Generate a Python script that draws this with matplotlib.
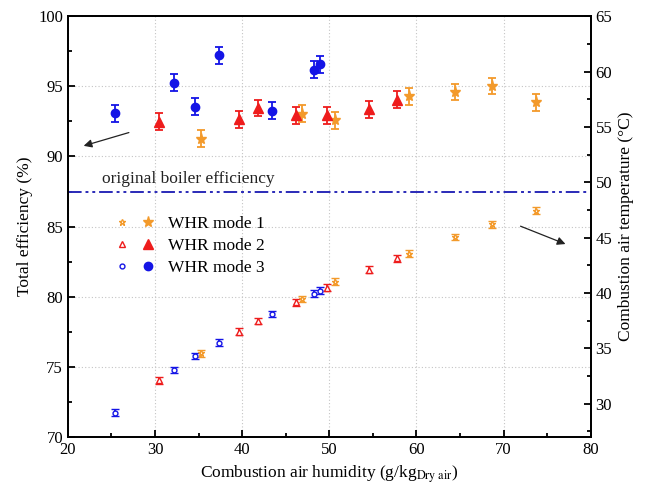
import numpy as np
import matplotlib.pyplot as plt
from matplotlib.legend_handler import HandlerTuple
from matplotlib.ticker import MultipleLocator

plt.rcParams['font.family'] = 'Liberation Serif'
plt.rcParams['mathtext.fontset'] = 'stix'

# ================== Data ==================
# WHR mode 1 (orange stars)
hum1 = [35.3, 46.9, 50.65, 59.15, 64.46, 68.67, 73.7]
eff1 = [91.28, 93.06, 92.59, 94.30, 94.60, 95.03, 93.85]
temp1 = [34.56, 39.46, 41.03, 43.56, 45.06, 46.21, 47.45]

# WHR mode 2 (red triangles)
hum2 = [30.4, 39.6, 41.8, 46.15, 49.74, 54.5, 57.77]
eff2 = [92.47, 92.64, 93.46, 92.94, 92.94, 93.35, 94.06]
temp2 = [32.1, 36.52, 37.48, 39.16, 40.49, 42.12, 43.14]

# WHR mode 3 (blue circles)
hum3 = [25.4, 32.2, 34.56, 37.35, 43.4, 48.2, 48.98]
eff3 = [93.09, 95.25, 93.54, 97.22, 93.25, 96.20, 96.58]
temp3 = [29.2, 33.05, 34.3, 35.52, 38.1, 39.95, 40.22]

eff_err = 0.6
temp_err = 0.3
boiler_eff = 87.5

c_orange = '#F39A2B'
c_red = '#EE1C1C'
c_blue = '#1414E6'
c_line = '#2A2AB8'

# ================== Figure ==================
fig = plt.figure(figsize=(6.47, 4.92), dpi=100)
ax = fig.add_axes([0.105, 0.112, 0.808, 0.855])
ax2 = ax.twinx()

modes = [
    (hum1, eff1, temp1, c_orange, '*', 8, 5),
    (hum2, eff2, temp2, c_red, '^', 6.5, 4),
    (hum3, eff3, temp3, c_blue, 'o', 6, 3.5),
]

handles = []
for hum, eff, temp, col, mk, ms_fill, ms_open in modes:
    ax.errorbar(hum, eff, yerr=eff_err, fmt=mk, color=col, ms=ms_fill,
                capsize=3, elinewidth=1.3, capthick=1.3, zorder=3)
    ax2.errorbar(hum, temp, yerr=temp_err, fmt=mk, color=col, ms=ms_open,
                 mfc='white', mec=col, mew=1.0,
                 capsize=3, elinewidth=1.3, capthick=1.3, zorder=3)
    h_open, = ax.plot([], [], mk, color=col, mfc='white', mec=col, ms=ms_open, mew=1.0)
    h_fill, = ax.plot([], [], mk, color=col, ms=ms_fill)
    handles.append((h_open, h_fill))

# original boiler efficiency line
ax.axhline(boiler_eff, color=c_line, lw=1.4, dashes=[7, 2, 1.5, 2, 1.5, 2], zorder=2)
ax.text(23.9, 88.12, 'original boiler efficiency', fontsize=12.5, color='#222222')

# arrows pointing to the relevant axes
ax.annotate('', xy=(21.5, 90.7), xytext=(27.3, 91.76),
            arrowprops=dict(arrowstyle='-|>', color='#222222', lw=0.9, mutation_scale=12))
ax.annotate('', xy=(77.4, 83.68), xytext=(71.65, 85.1),
            arrowprops=dict(arrowstyle='-|>', color='#222222', lw=0.9, mutation_scale=12))

# axes
ax.set_xlim(20, 80)
ax.set_ylim(70, 100)
ax2.set_ylim(27, 65)
ax.xaxis.set_major_locator(MultipleLocator(10))
ax.xaxis.set_minor_locator(MultipleLocator(5))
ax.yaxis.set_major_locator(MultipleLocator(5))
ax.yaxis.set_minor_locator(MultipleLocator(2.5))
ax2.yaxis.set_major_locator(MultipleLocator(5))
ax2.yaxis.set_minor_locator(MultipleLocator(2.5))

ax.grid(True, which='major', color='#c4c4c4', ls=(0, (1, 2)), lw=0.8)
ax.set_axisbelow(True)

for a in (ax, ax2):
    a.tick_params(which='both', direction='in', labelsize=12, width=1.3)
    a.tick_params(which='major', length=5)
    a.tick_params(which='minor', length=3)
    for s in a.spines.values():
        s.set_linewidth(1.3)
ax.tick_params(which='both', top=False, right=False)
ax2.tick_params(which='both', left=False)

ax.set_xlabel(r'Combustion air humidity (g/kg$_{\mathrm{Dry\ air}}$)', fontsize=12.5)
ax.set_ylabel('Total efficiency (%)', fontsize=12.5)
ax2.set_ylabel('Combustion air temperature (\u00b0C)', fontsize=12.5)

ax.legend(handles, ['WHR mode 1', 'WHR mode 2', 'WHR mode 3'],
          handler_map={tuple: HandlerTuple(ndivide=None, pad=0.7)},
          handlelength=2.2, loc='upper left', bbox_to_anchor=(0.062, 0.563),
          frameon=False, fontsize=12.5, labelspacing=0.35, handletextpad=0.8)

fig.savefig('out.png', dpi=100)
